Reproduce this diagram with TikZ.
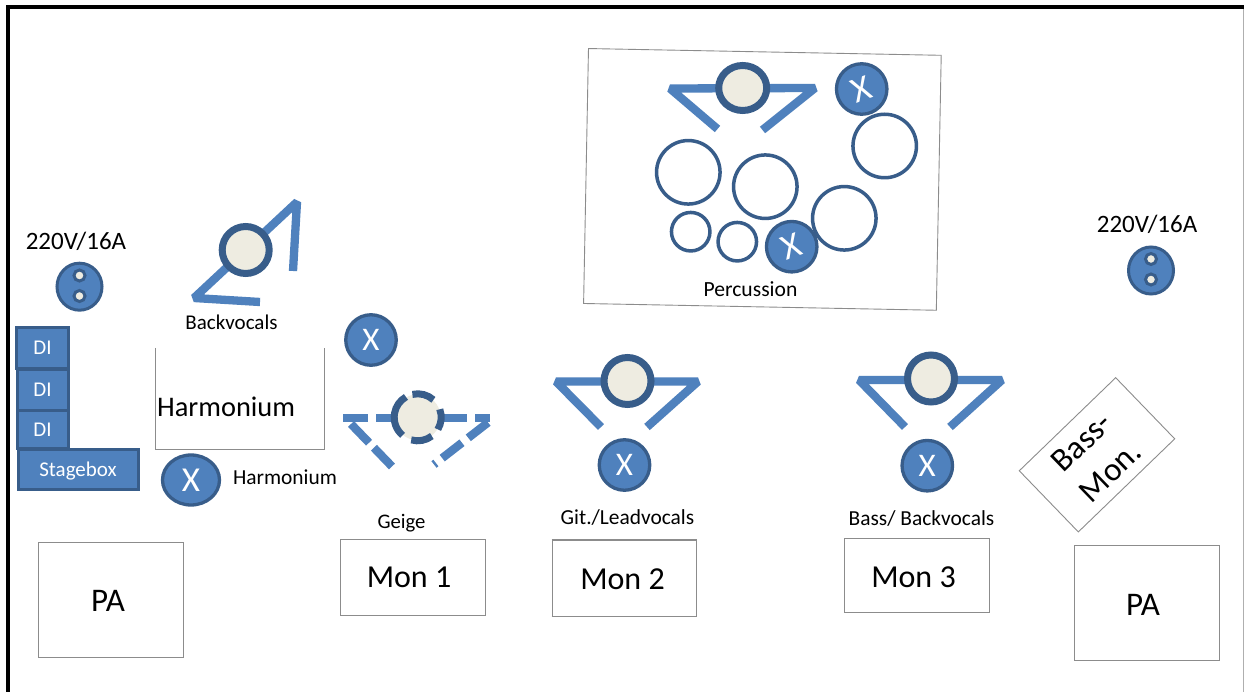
\documentclass[tikz,border=0pt]{standalone}
\usepackage{fontspec}
\setmainfont{Carlito}
\usetikzlibrary{calc,shapes.geometric}
\definecolor{fillb}{HTML}{4F81BD}
\definecolor{darkb}{HTML}{385D8A}
\definecolor{face}{HTML}{EEECE1}
\definecolor{boxg}{HTML}{8C8C8C}
\newcommand{\fs}[1]{\fontsize{#1}{#1}\selectfont}
\tikzset{
  lab/.style={inner sep=0pt,text=black},
  plain/.style={draw=boxg,line width=0.9pt,fill=white,inner sep=0pt},
  arm/.style={draw=fillb,line width=8.3pt,line cap=butt,line join=bevel},
  head/.style={circle,draw=darkb,line width=7pt,fill=face,inner sep=0pt,minimum size=47pt},
  headarc/.style={draw=darkb,line width=7pt},
  xmic/.style={ellipse,draw=darkb,line width=3.3pt,fill=fillb,inner sep=0pt,minimum width=50.5pt,minimum height=50.5pt,text=white,font=\fs{33}},
  drum/.style={circle,draw=darkb,line width=3.5pt,fill=white,inner sep=0pt},
  bluebox/.style={draw=darkb,line width=3pt,fill=fillb,text=white,inner sep=0pt,font=\fs{21}},
  sock/.style={ellipse,draw=darkb,line width=3pt,fill=fillb,inner sep=0pt,minimum width=45pt,minimum height=47pt},
  pinhole/.style={circle,draw=darkb,line width=3pt,fill=face,inner sep=0pt,minimum size=11pt},
}
\begin{document}
\begin{tikzpicture}[x=1pt,y=-1pt]
\useasboundingbox (0,0) rectangle (1245,692);
\fill[white] (0,0) rectangle (1245,692);
% frame
\coordinate (fa) at (8.3,692); \coordinate (fb) at (8.3,6.7); \coordinate (fc) at (1243.8,6.7); \coordinate (fd) at (1243.8,692);
\draw[line width=1.2pt,draw=boxg!70] (fc) -- (fd);
\draw[line width=3.8pt,black] (fa) -- (fb) -- (fc);
% percussion riser
\node[plain,minimum width=352.8pt,minimum height=255pt,rotate=-1.1] (riser) at (762.4,179.4) {};
\node[lab,font=\fs{21.6}] (perc) at (750.5,289) {Percussion};
% drummer
\coordinate (d1) at (717.5,129); \coordinate (d2) at (670,88.5); \coordinate (d3) at (815,88); \coordinate (d4) at (762.5,130);
\draw[arm] (d1) -- (d2) -- (d3) -- (d4);
\node[head,ellipse,minimum width=48pt,minimum height=45pt] (dh) at (742.7,88) {};
\node[drum,minimum size=63.5pt] (t1) at (688.3,172.3) {};
\node[drum,minimum size=63.5pt] (t2) at (765.3,186.7) {};
\node[xmic,font=\fs{36}] (px2) at (791.7,246.7) {\rotatebox{20}{X}};
\node[drum,minimum size=63.5pt] (t4) at (844.3,218.3) {};
\node[xmic,font=\fs{36}] (px1) at (861.7,89) {\rotatebox{20}{X}};
\node[drum,minimum size=63.5pt] (t3) at (884.7,146) {};
\node[drum,minimum size=38.5pt] (t5) at (690.7,231.7) {};
\node[drum,minimum size=38.5pt] (t6) at (737.3,241.7) {};
% backvocals
\coordinate (b1) at (260,302); \coordinate (b2) at (194,298); \coordinate (b3) at (297,202); \coordinate (b4) at (293,271);
\draw[arm] (b1) -- (b2) -- (b3) -- (b4);
\node[head] (bh) at (245.7,250) {};
\node[lab,font=\fs{21}] (bl) at (231.5,322.5) {Backvocals};
% sockets
\node[lab,font=\fs{25}] (v1) at (76,241) {220V/16A};
\node[sock] (s1) at (79.5,286.7) {};
\node[pinhole] (s1a) at (79.5,275.5) {};
\node[pinhole] (s1b) at (79.5,296) {};
\node[lab,font=\fs{25}] (v2) at (1147,224.5) {220V/16A};
\node[sock] (s2) at (1151,270.5) {};
\node[pinhole] (s2a) at (1151,259) {};
\node[pinhole] (s2b) at (1151,279.5) {};
% DI
\node[bluebox,minimum width=52pt,minimum height=41pt] (di1) at (42.5,348) {DI};
\node[bluebox,minimum width=51pt,minimum height=41pt] (di2) at (42.5,390) {DI};
\node[bluebox,minimum width=51pt,minimum height=38pt] (di3) at (42.5,429.5) {DI};
\node[bluebox,minimum width=120pt,minimum height=40.5pt] (sb) at (78.5,469.5) {};
\node[lab,text=white,font=\fs{21}] (sbt) at (78,471) {Stagebox};
% harmonium
\coordinate (h1) at (155,348); \coordinate (h2) at (155,449); \coordinate (h3) at (324.5,449); \coordinate (h4) at (324.5,348);
\draw[boxg,line width=0.9pt] (h1) -- (h2) -- (h3) -- (h4);
\node[lab,anchor=west,font=\fs{28.4}] (hl) at (157,407) {Harmonium};
\node[xmic,minimum width=57pt,minimum height=50pt,font=\fs{35}] (hx) at (191,480) {X};
\node[lab,font=\fs{21.4}] (hl2) at (285,477) {Harmonium};
% Geige
\node[xmic] (gx) at (371,340) {X};
\coordinate (g1) at (392.5,467); \coordinate (g2) at (351,424); \coordinate (g0) at (343,418.3); \coordinate (g3) at (490,418.3); \coordinate (g3b) at (488,422.5); \coordinate (g4) at (434,464.5);
\draw[arm,dash pattern=on 25pt off 8pt] (g0) -- (g3);
\draw[arm,dash pattern=on 26pt off 7pt] (g2) -- (g1);
\draw[arm,dash pattern=on 25pt off 8pt] (g3b) -- (g4);
\node[circle,fill=face,inner sep=0pt,minimum size=46pt] (gh) at (417.7,417.3) {};
\draw[headarc] (gh.center) ++(103:23.5pt) arc[start angle=103,end angle=48,radius=23.5pt];
\draw[headarc] (gh.center) ++(20:23.5pt) arc[start angle=20,end angle=-31,radius=23.5pt];
\draw[headarc] (gh.center) ++(-53:23.5pt) arc[start angle=-53,end angle=-106,radius=23.5pt];
\draw[headarc] (gh.center) ++(230:23.5pt) arc[start angle=230,end angle=120,radius=23.5pt];
\node[lab,font=\fs{20.7}] (gl) at (401.5,523.5) {Geige};
% Git
\coordinate (a1) at (601,427); \coordinate (a2) at (556,381.5); \coordinate (a3) at (698,381.5); \coordinate (a4) at (647,427);
\draw[arm] (a1) -- (a2) -- (a3) -- (a4);
\node[head] (ah) at (627.5,381) {};
\node[xmic] (ax) at (624.5,465) {X};
\node[lab,font=\fs{21.4}] (al) at (627.5,518) {Git./Leadvocals};
% Bass
\coordinate (c1) at (905,427); \coordinate (c2) at (859,380); \coordinate (c3) at (1002,380); \coordinate (c4) at (950,427);
\draw[arm] (c1) -- (c2) -- (c3) -- (c4);
\node[head] (ch) at (931,378.5) {};
\node[xmic] (cx) at (927.3,465.7) {X};
\node[lab,font=\fs{21.4}] (cl) at (921.5,519) {Bass/ Backvocals};
% monitors
\node[plain,minimum width=145pt,minimum height=115pt] (pa1) at (110.5,600) {};
\node[lab,font=\fs{33}] (pa1t) at (108,601) {PA};
\node[plain,minimum width=145pt,minimum height=76pt] (m1) at (413,577.5) {};
\node[lab,font=\fs{32}] (m1t) at (409,577) {Mon 1};
\node[plain,minimum width=144.5pt,minimum height=76pt] (m2) at (624.3,578) {};
\draw[boxg,line width=1.8pt] (m2.north west) -- (m2.north east);
\draw[boxg,line width=1.8pt] (m2.south west) -- (m2.south east);
\node[lab,font=\fs{32}] (m2t) at (622.5,579) {Mon 2};
\node[plain,minimum width=145pt,minimum height=74pt] (m3) at (917,575.5) {};
\node[lab,font=\fs{32}] (m3t) at (913.5,577) {Mon 3};
\node[plain,minimum width=145pt,minimum height=115pt] (pa2) at (1146.5,603) {};
\node[lab,font=\fs{33}] (pa2t) at (1143,605) {PA};
\node[plain,minimum width=134pt,minimum height=85pt,rotate=44] (bm) at (1097,454.8) {};
\node[lab,rotate=44,align=center,font=\fontsize{33}{41}\selectfont] (bmt) at (1096,457) {Bass-\\Mon.};
\end{tikzpicture}
\end{document}
